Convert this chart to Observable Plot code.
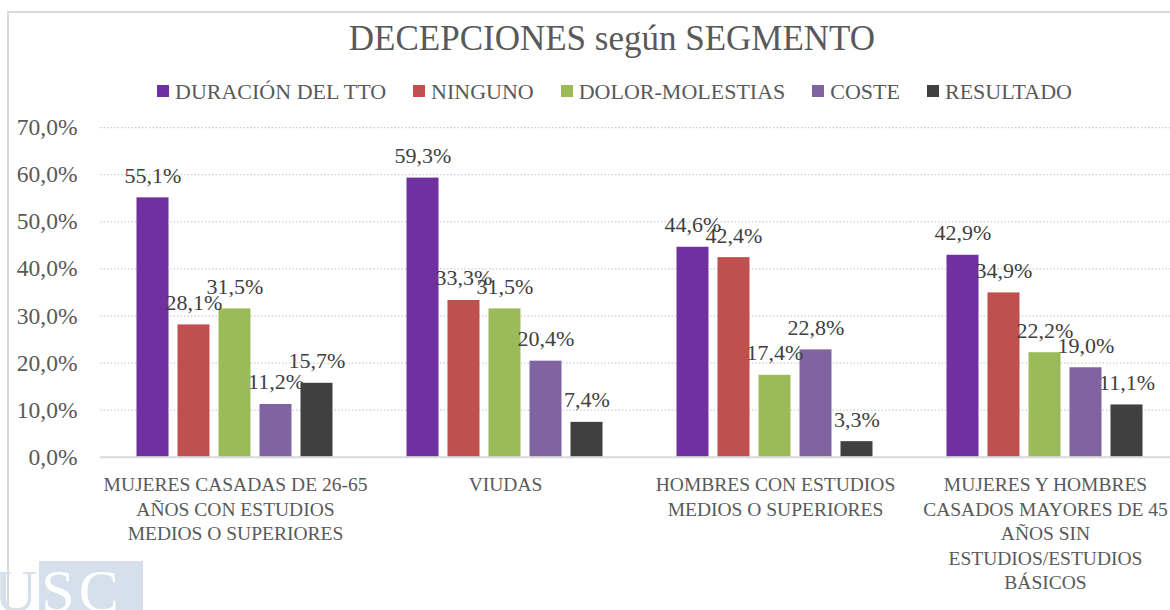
<!DOCTYPE html>
<html>
<head>
<meta charset="utf-8">
<script src="https://cdn.jsdelivr.net/npm/d3@7"></script>
<script src="https://cdn.jsdelivr.net/npm/@observablehq/plot@0.6"></script>
<style>
  html, body { margin: 0; padding: 0; background: white; }
  #wrap { position: relative; width: 1170px; height: 610px; overflow: hidden; background: white; font-family: "Liberation Serif", serif; }
  #frame { position: absolute; left: 7px; top: 11px; width: 1400px; height: 800px; border-left: 2px solid #d9d9d9; border-top: 2px solid #d9d9d9; }
  #title { position: absolute; left: 8px; width: 1208px; top: 20.7px; text-align: center; font-size: 35px; line-height: 35px; color: #595959; white-space: nowrap; }
  #legend { position: absolute; left: 8px; width: 1213px; top: 80.6px; text-align: center; font-size: 22px; line-height: 22px; color: #595959; white-space: nowrap; }
  #legend .item { display: inline-block; margin: 0 13.5px; }
  #legend .sw { display: inline-block; width: 12px; height: 12px; margin-bottom: 2px; margin-right: 6px; vertical-align: baseline; }
  #chart { position: absolute; left: 0; top: 110px; }
  #logoRect { position: absolute; left: 39px; top: 561px; width: 104px; height: 60px; background: #d5e0ec; }
  #logoText { position: absolute; left: -6px; top: 561px; font-size: 60px; line-height: 60px; letter-spacing: 4px; font-family: "Liberation Serif", serif; white-space: nowrap; }
</style>
</head>
<body>
<div id="wrap">
  <div id="frame"></div>
  <div id="logoRect"></div>
  <div id="logoText"><span style="color:#d5e0ec">U</span><span style="color:#ffffff">SC</span></div>
  <div id="title">DECEPCIONES según SEGMENTO</div>
  <div id="legend"></div>
  <div id="chart"></div>
</div>
<script>
// ---- data ----
const categories = [
  "MUJERES CASADAS DE 26-65 AÑOS CON ESTUDIOS MEDIOS O SUPERIORES",
  "VIUDAS",
  "HOMBRES CON ESTUDIOS MEDIOS O SUPERIORES",
  "MUJERES Y HOMBRES CASADOS MAYORES DE 45 AÑOS SIN ESTUDIOS/ESTUDIOS BÁSICOS"
];
const categoryLines = [
  "MUJERES CASADAS DE 26-65\nAÑOS CON ESTUDIOS\nMEDIOS O SUPERIORES",
  "VIUDAS",
  "HOMBRES CON ESTUDIOS\nMEDIOS O SUPERIORES",
  "MUJERES Y HOMBRES\nCASADOS MAYORES DE 45\nAÑOS SIN\nESTUDIOS/ESTUDIOS\nBÁSICOS"
];
const series = ["DURACIÓN DEL TTO", "NINGUNO", "DOLOR-MOLESTIAS", "COSTE", "RESULTADO"];
const colors = ["#7030a0", "#c0504d", "#9bbb59", "#8064a2", "#404040"];
const duracion   = [55.1, 59.3, 44.6, 42.9];
const ninguno    = [28.1, 33.3, 42.4, 34.9];
const dolor      = [31.5, 31.5, 17.4, 22.2];
const coste      = [11.2, 20.4, 22.8, 19.0];
const resultado  = [15.7, 7.4, 3.3, 11.1];
const yTicks = [0, 10, 20, 30, 40, 50, 60, 70];

const seriesValues = [duracion, ninguno, dolor, coste, resultado];
const table = [];
categories.forEach((c, i) => {
  series.forEach((s, j) => table.push({group: c, series: s, value: seriesValues[j][i]}));
});
const labelTable = categories.map((c, i) => ({group: c, label: categoryLines[i]}));
const fmt = v => v.toFixed(1).replace(".", ",") + "%";

// ---- legend ----
const legend = document.getElementById("legend");
series.forEach((s, j) => {
  const it = document.createElement("span");
  it.className = "item";
  it.innerHTML = `<span class="sw" style="background:${colors[j]}"></span>${s}`;
  legend.appendChild(it);
});

// ---- chart ----
const chart = Plot.plot({
  width: 1170,
  height: 500,
  marginTop: 17.2,
  marginBottom: 153.3,
  marginLeft: 99.5,
  marginRight: 0,
  style: {fontFamily: "Liberation Serif, serif", color: "#595959", background: "transparent", overflow: "visible"},
  fx: {domain: categories, range: [99.5, 1179.5], padding: 0, axis: null},
  x: {domain: series, paddingInner: 0.2145, paddingOuter: 0.86, axis: null},
  y: {domain: [0, 70], axis: null},
  color: {domain: series, range: colors},
  marks: [
    Plot.ruleY(yTicks.filter(t => t > 0), {stroke: "#bfbfbf", strokeWidth: 1, strokeDasharray: "1.5,2"}),
    Plot.barY(table, {fx: "group", x: "series", y: "value", fill: "series"}),
    Plot.ruleY([0], {stroke: "#d9d9d9", strokeWidth: 2}),
    Plot.text(table, {fx: "group", x: "series", y: "value", text: d => fmt(d.value), lineAnchor: "bottom", dy: -15, fontSize: 22, fill: "#404040"}),
    Plot.text(labelTable, {fx: "group", text: "label", frameAnchor: "bottom", lineAnchor: "top", dy: 16.5, fontSize: 19.5, lineHeight: 1.256, fill: "#595959"}),
    Plot.axisY({ticks: yTicks, tickFormat: d => d.toFixed(1).replace(".", ",") + "%", tickSize: 0, tickPadding: 23, fontSize: 23.5, fill: "#595959", label: null})
  ]
});
document.getElementById("chart").appendChild(chart);
</script>
</body>
</html>
